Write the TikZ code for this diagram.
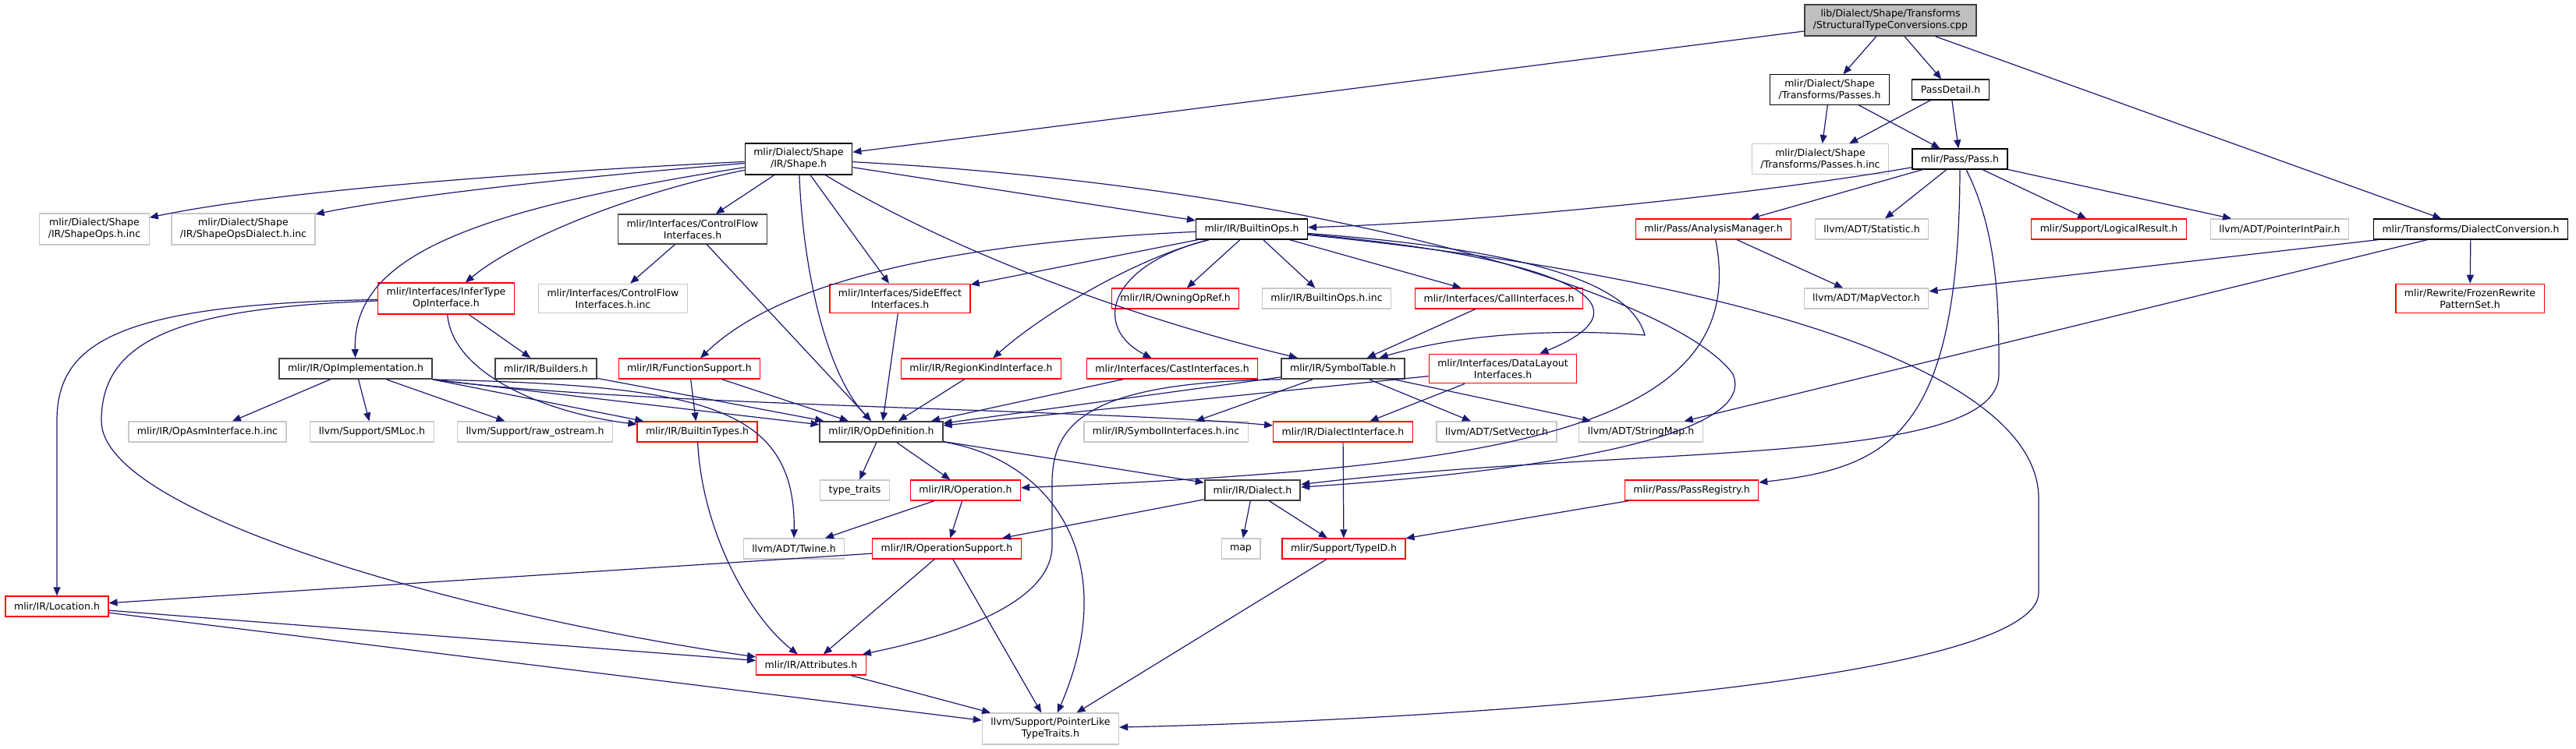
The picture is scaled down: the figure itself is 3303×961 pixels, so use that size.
\documentclass[tikz,border=0pt]{standalone}
\usepackage{fontspec}
\usepackage{xcolor}
\usepackage{tikz}
\usetikzlibrary{arrows.meta}
\newfontfamily\dejavu{DejaVu Sans}
\definecolor{edgeblue}{RGB}{25,25,112}
\definecolor{boxgray}{RGB}{200,200,200}
\definecolor{rootfill}{RGB}{191,191,191}
\tikzset{
  hdr/.style={draw=black, line width=0.6pt, fill=white, inner xsep=5.5pt, inner ysep=3.2pt,
    minimum height=13pt, align=center, font=\dejavu\fontsize{6.25}{7.5}\selectfont},
  hdrdark/.style={hdr, draw=black!75, line width=0.9pt},
  hdrgray/.style={hdr, draw=boxgray},
  hdrred/.style={hdr, draw=red},
  hdrroot/.style={hdrdark, fill=rootfill},
  dep/.style={draw=edgeblue, line width=0.6pt, -{Triangle[length=5.5pt,width=4.5pt]}}
}

\begin{document}
\begin{tikzpicture}[x=0.5pt,y=-0.5pt]
\useasboundingbox (0,0) rectangle (3303,961);
% top
\node[hdrroot] (root) at (2424,26) {lib/Dialect/Shape/Transforms\\/StructuralTypeConversions.cpp};
\node[hdr] (passes) at (2346,115) {mlir/Dialect/Shape\\/Transforms/Passes.h};
\node[hdr] (passdetail) at (2501,115) {PassDetail.h};
\node[hdr] (shape) at (1024,204) {mlir/Dialect/Shape\\/IR/Shape.h};
\node[hdrgray] (passesinc) at (2334,204) {mlir/Dialect/Shape\\/Transforms/Passes.h.inc};
\node[hdr] (pass) at (2513,204) {mlir/Pass/Pass.h};
%
\node[hdrgray] (shapeopsinc) at (121,294) {mlir/Dialect/Shape\\/IR/ShapeOps.h.inc};
\node[hdrgray] (shapedialectinc) at (312,294) {mlir/Dialect/Shape\\/IR/ShapeOpsDialect.h.inc};
\node[hdrdark] (controlflow) at (888,294) {mlir/Interfaces/ControlFlow\\Interfaces.h};
\node[hdr] (builtinops) at (1605,294) {mlir/IR/BuiltinOps.h};
\node[hdrred] (analysis) at (2197,294) {mlir/Pass/AnalysisManager.h};
\node[hdrgray] (statistic) at (2400,294) {llvm/ADT/Statistic.h};
\node[hdrred] (logical) at (2704,294) {mlir/Support/LogicalResult.h};
\node[hdrgray] (pointerint) at (2923,294) {llvm/ADT/PointerIntPair.h};
\node[hdr] (dialectconv) at (3168,294) {mlir/Transforms/DialectConversion.h};
%
\node[hdrred] (infertype) at (572,383) {mlir/Interfaces/InferType\\OpInterface.h};
\node[hdrgray] (controlflowinc) at (786,383) {mlir/Interfaces/ControlFlow\\Interfaces.h.inc};
\node[hdrred] (sideeffect) at (1154,383) {mlir/Interfaces/SideEffect\\Interfaces.h};
\node[hdrred] (owningopref) at (1507,383) {mlir/IR/OwningOpRef.h};
\node[hdrgray] (builtinopsinc) at (1701,383) {mlir/IR/BuiltinOps.h.inc};
\node[hdrred] (callif) at (1922,383) {mlir/Interfaces/CallInterfaces.h};
\node[hdrgray] (mapvector) at (2393,383) {llvm/ADT/MapVector.h};
\node[hdrred] (frozen) at (3167,383) {mlir/Rewrite/FrozenRewrite\\PatternSet.h};
%
\node[hdrdark] (opimpl) at (456,473) {mlir/IR/OpImplementation.h};
\node[hdrdark] (builders) at (700,473) {mlir/IR/Builders.h};
\node[hdrred] (funcsupport) at (884,473) {mlir/IR/FunctionSupport.h};
\node[hdrred] (regionkind) at (1258,473) {mlir/IR/RegionKindInterface.h};
\node[hdrred] (castif) at (1503,473) {mlir/Interfaces/CastInterfaces.h};
\node[hdrdark] (symboltable) at (1722,473) {mlir/IR/SymbolTable.h};
\node[hdrred] (datalayout) at (1927,473) {mlir/Interfaces/DataLayout\\Interfaces.h};
%
\node[hdrgray] (opasminc) at (266,554) {mlir/IR/OpAsmInterface.h.inc};
\node[hdrgray] (smloc) at (477,554) {llvm/Support/SMLoc.h};
\node[hdrgray] (rawostream) at (686,554) {llvm/Support/raw\_ostream.h};
\node[hdrred] (builtintypes) at (894,554) {mlir/IR/BuiltinTypes.h};
\node[hdrdark] (opdef) at (1130,554) {mlir/IR/OpDefinition.h};
\node[hdrgray] (symbolinc) at (1495,554) {mlir/IR/SymbolInterfaces.h.inc};
\node[hdrred] (dialectif) at (1722,554) {mlir/IR/DialectInterface.h};
\node[hdrgray] (setvector) at (1919,554) {llvm/ADT/SetVector.h};
\node[hdrgray] (stringmap) at (2104,554) {llvm/ADT/StringMap.h};
%
\node[hdrgray] (typetraits) at (1096,629) {type\_traits};
\node[hdrred] (operation) at (1238,629) {mlir/IR/Operation.h};
\node[hdrdark] (dialect) at (1606,629) {mlir/IR/Dialect.h};
\node[hdrred] (passregistry) at (2169,629) {mlir/Pass/PassRegistry.h};
\node[hdrgray] (twine) at (1018,704) {llvm/ADT/Twine.h};
\node[hdrred] (opsupport) at (1214,704) {mlir/IR/OperationSupport.h};
\node[hdrgray] (map) at (1591,704) {map};
\node[hdrred] (typeid) at (1723,704) {mlir/Support/TypeID.h};
\node[hdrred] (location) at (73,778) {mlir/IR/Location.h};
\node[hdrred] (attributes) at (1040,853) {mlir/IR/Attributes.h};
\node[hdrgray] (pointerlike) at (1347,935) {llvm/Support/PointerLike\\TypeTraits.h};
%
% root and pass side
\draw[dep] (root) -- (shape);
\draw[dep] (root) -- (passes);
\draw[dep] (root) -- (passdetail);
\draw[dep] (root) -- (dialectconv);
\draw[dep] (passes) -- (passesinc);
\draw[dep] (passes) -- (pass);
\draw[dep] (passdetail) -- (passesinc);
\draw[dep] (passdetail) -- (pass);
\draw[dep] (pass) .. controls (2250,250) and (1900,285) .. (builtinops);
\draw[dep] (pass) -- (analysis);
\draw[dep] (pass) -- (statistic);
\draw[dep] (pass) -- (logical);
\draw[dep] (pass) -- (pointerint);
\draw[dep] (pass.south) .. controls (2512,560) and (2420,600) .. (passregistry);
\draw[dep] ([xshift=4pt]pass.south) .. controls (2563,300) and (2563,400) .. (2563,480)
  .. controls (2563,600) and (2100,570) .. (dialect);
\draw[dep] (analysis) -- (mapvector);
\draw[dep] (analysis) .. controls (2250,560) and (1900,600) .. (operation);
\draw[dep] (dialectconv) -- (mapvector);
\draw[dep] (dialectconv) -- (stringmap);
\draw[dep] (dialectconv) -- (frozen);
%
% Shape.h
\draw[dep] (shape) .. controls (600,225) and (330,250) .. (shapeopsinc);
\draw[dep] (shape) .. controls (700,230) and (500,255) .. (shapedialectinc);
\draw[dep] (shape) .. controls (800,250) and (660,310) .. (infertype);
\draw[dep] (shape) .. controls (600,270) and (452,330) .. (opimpl);
\draw[dep] (shape) -- (controlflow);
\draw[dep] (shape) .. controls (1030,350) and (1060,480) .. (opdef);
\draw[dep] (shape) -- (sideeffect);
\draw[dep] (shape) .. controls (1250,340) and (1500,420) .. (symboltable);
\draw[dep] (shape) -- (builtinops);
\draw[dep] (shape) .. controls (1700,240) and (2150,380) .. (2222,480)
  .. controls (2260,570) and (1900,610) .. (dialect);
%
% interfaces
\draw[dep] (infertype) .. controls (150,390) and (73,440) .. (73,540) -- (location);
\draw[dep] (infertype) .. controls (220,395) and (130,440) .. (130,540)
  .. controls (130,660) and (600,790) .. (attributes);
\draw[dep] (infertype) -- (builders);
\draw[dep] (infertype) .. controls (580,480) and (700,530) .. (builtintypes);
\draw[dep] (controlflow) -- (controlflowinc);
\draw[dep] (controlflow) -- (opdef);
\draw[dep] (sideeffect) -- (opdef);
\draw[dep] (regionkind) -- (opdef);
\draw[dep] (castif) -- (opdef);
\draw[dep] (callif) -- (symboltable);
\draw[dep] (datalayout) -- (opdef);
\draw[dep] (datalayout) -- (dialectif);
%
% OpImplementation.h, Builders.h, FunctionSupport.h
\draw[dep] (opimpl) -- (opasminc);
\draw[dep] (opimpl) -- (smloc);
\draw[dep] (opimpl) -- (rawostream);
\draw[dep] (opimpl.south east) -- (builtintypes);
\draw[dep] (opimpl.south east) -- (opdef);
\draw[dep] (opimpl.south east) .. controls (800,520) and (1400,525) .. (dialectif);
\draw[dep] (opimpl.south east) .. controls (900,495) and (1020,520) .. (twine);
\draw[dep] (builders) -- (opdef);
\draw[dep] (funcsupport) -- (builtintypes);
\draw[dep] (funcsupport) -- (opdef);
%
% BuiltinOps.h
\draw[dep] (builtinops) .. controls (1150,315) and (980,380) .. (funcsupport);
\draw[dep] (builtinops) -- (sideeffect);
\draw[dep] (builtinops) .. controls (1460,330) and (1340,400) .. (regionkind);
\draw[dep] (builtinops) .. controls (1420,340) and (1400,420) .. (castif);
\draw[dep] (builtinops) -- (owningopref);
\draw[dep] (builtinops) -- (builtinopsinc);
\draw[dep] (builtinops) -- (callif);
\draw[dep] (builtinops) .. controls (1950,320) and (2090,360) .. (2109,430)
  .. controls (2050,425) and (1900,420) .. (symboltable);
\draw[dep] (builtinops) .. controls (2000,330) and (2130,390) .. (datalayout);
\draw[dep] (builtinops) .. controls (2250,360) and (2614,480) .. (2614,640) -- (2614,760)
  .. controls (2614,880) and (1800,925) .. (pointerlike);
%
% SymbolTable.h
\draw[dep] (symboltable) -- (opdef);
\draw[dep] (symboltable) -- (symbolinc);
\draw[dep] (symboltable) -- (setvector);
\draw[dep] (symboltable) -- (stringmap);
\draw[dep] (symboltable.south west) .. controls (1400,490) and (1349,540) .. (1349,620) -- (1349,700)
  .. controls (1349,780) and (1200,820) .. (attributes);
%
% lower part
\draw[dep] (opdef) -- (typetraits);
\draw[dep] (opdef) -- (operation);
\draw[dep] (opdef) -- (dialect);
\draw[dep] (opdef) .. controls (1350,590) and (1440,720) .. (pointerlike);
\draw[dep] (dialectif) -- (typeid);
\draw[dep] (operation) -- (twine);
\draw[dep] (operation) -- (opsupport);
\draw[dep] (dialect) -- (opsupport);
\draw[dep] (dialect) -- (map);
\draw[dep] (dialect) -- (typeid);
\draw[dep] (passregistry) -- (typeid);
\draw[dep] (opsupport) -- (location);
\draw[dep] (opsupport) -- (attributes);
\draw[dep] (opsupport) -- (pointerlike);
\draw[dep] (builtintypes) .. controls (900,680) and (960,790) .. (attributes);
\draw[dep] (location) -- (attributes);
\draw[dep] (location) -- (pointerlike);
\draw[dep] (attributes) -- (pointerlike);
\draw[dep] (typeid) -- (pointerlike);
\end{tikzpicture}
\end{document}
